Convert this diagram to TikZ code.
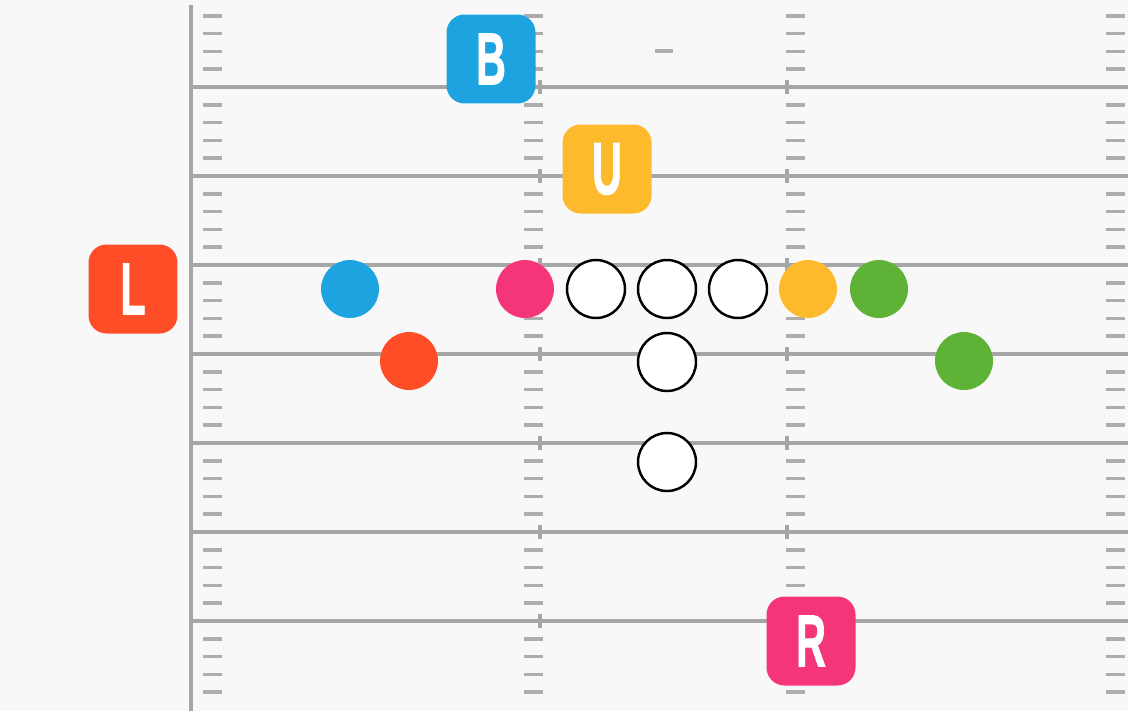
\documentclass[tikz,border=0pt]{standalone}
\usepackage{fontspec}
\setmainfont{Liberation Sans}
\newfontfamily\tagfont{Liberation Sans}[BoldFeatures={FakeBold=1.6}]
\usepackage{graphicx}
\usetikzlibrary{positioning}
\definecolor{fieldBg}{HTML}{F8F8F8}
\definecolor{lineGray}{HTML}{A6A6A6}
\definecolor{hashGray}{HTML}{ADADAD}
\definecolor{tBlue}{HTML}{1DA4E0}
\definecolor{tPink}{HTML}{F5357A}
\definecolor{tGold}{HTML}{FDBA2C}
\definecolor{tGreen}{HTML}{5EB236}
\definecolor{tRed}{HTML}{FF4D27}
\def\yardGap{89}
\def\hashGap{17.8}
\def\playerSize{1.16cm}
\def\tagSize{1.78cm}
\newcommand{\tagtext}[1]{\scalebox{0.56}[1]{#1}}
\newcommand{\hashcol}[1]{%
% #1 = left end of the hash marks
\foreach \j in {0,...,7}{
  \foreach \m in {1,...,4}{
    \draw[hash] (#1,{87+\yardGap*(\j-1)+\hashGap*\m}) -- ++(19,0);
  }
}
}

\begin{document}
\begin{tikzpicture}[
    x=0.02cm, y=-0.02cm,
    yard/.style={draw=lineGray, line width=1.9pt},
    hash/.style={draw=hashGray, line width=2pt},
    player/.style={circle, minimum size=\playerSize, inner sep=0pt},
    openman/.style={player, draw=black, fill=white, line width=1.4pt},
    tag/.style={rectangle, rounded corners=0.36cm, minimum size=\tagSize,
        inner sep=0pt, text=white, font=\fontsize{42}{42}\tagfont\bfseries}
]
\useasboundingbox (0,0) rectangle (1128,711);
\fill[fieldBg] (0,0) rectangle (1128,711);

% field lines
\draw[yard] (191,5) -- (191,711);
\foreach \j in {0,...,6}{
  \draw[yard] (191,{87+\yardGap*\j}) -- (1128,{87+\yardGap*\j});
  \draw[yard] (540,{80+\yardGap*\j}) -- ++(0,14);
  \draw[yard] (787,{80+\yardGap*\j}) -- ++(0,14);
}
\hashcol{203}
\hashcol{524}
\hashcol{786}
\hashcol{1106}
\draw[hash] (655,51) -- ++(18,0);

% players
\node[player, fill=tBlue] (cb) at (350,289) {};
\node[player, fill=tPink] (de) at (525,289) {};
\node[openman] (lg) at (596,289) {};
\node[openman] (c) at (667,289) {};
\node[openman] (rg) at (738,289) {};
\node[player, fill=tGold] (rt) at (808,289) {};
\node[player, fill=tGreen] (te) at (879,289) {};
\node[player, fill=tRed] (lb) at (409,361) {};
\node[openman] (qb) at (667,362) {};
\node[player, fill=tGreen] (wr) at (964,361) {};
\node[openman] (rb) at (667,462) {};

% tags
\node[tag, fill=tBlue] (B) at (491,59) {\tagtext{B}};
\node[tag, fill=tGold] (U) at (607,169) {\tagtext{U}};
\node[tag, fill=tRed] (L) at (133,289) {\tagtext{L}};
\node[tag, fill=tPink] (R) at (811,641) {\tagtext{R}};
\end{tikzpicture}
\end{document}
